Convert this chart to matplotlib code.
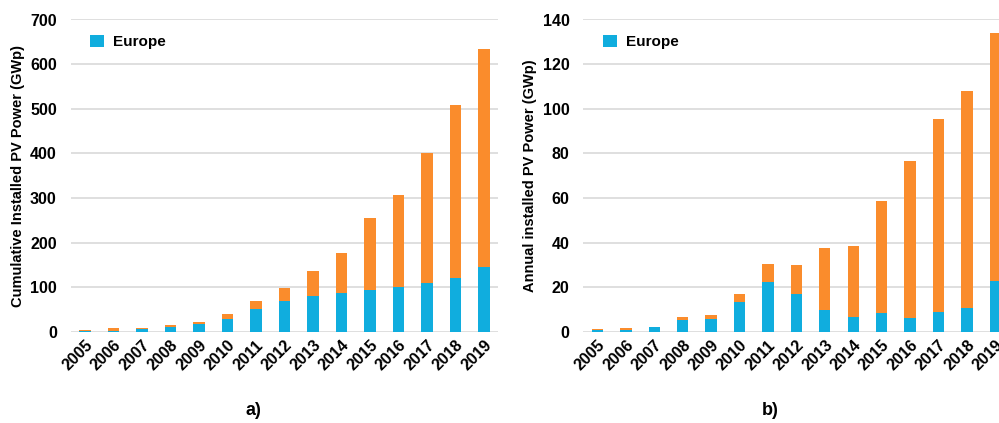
import matplotlib
matplotlib.use("Agg")
import matplotlib.pyplot as plt
import numpy as np

plt.rcParams['font.family'] = ['Liberation Sans', 'DejaVu Sans']
plt.rcParams['font.weight'] = 'bold'

years = ['2005', '2006', '2007', '2008', '2009', '2010', '2011', '2012',
         '2013', '2014', '2015', '2016', '2017', '2018', '2019']

# Cumulative installed PV power (GWp)
cum_world = [5, 8, 10, 16, 23, 41, 70, 99, 137, 178, 256, 306, 401, 509, 634]
cum_europe = [2, 3, 6, 11, 17, 30, 52, 69, 80, 87, 94, 101, 110, 122, 145]

# Annual installed PV power (GWp)
ann_world = [1.3, 1.6, 2.4, 6.6, 7.5, 17.1, 30.3, 29.8, 37.5, 38.5, 58.8, 76.8, 95.2, 108.1, 133.9]
ann_europe = [0.8, 0.9, 2.1, 5.5, 5.7, 13.5, 22.2, 17.2, 10.0, 6.9, 8.4, 6.4, 8.8, 10.9, 22.9]

BLUE = '#10ADDE'
ORANGE = '#FA8C2C'
GRID = '#D9D9D9'

fig = plt.figure(figsize=(9.99, 4.23), dpi=100)
W, H = 999, 423


def make_axes(x0, x1, y_top=19.5, y_bot=332):
    return fig.add_axes([x0 / W, (H - y_bot) / H, (x1 - x0) / W, (y_bot - y_top) / H])


def draw(ax, world, europe, ymax, ystep, ylabel, caption, cap_x):
    x = np.arange(len(years))
    rest = np.array(world) - np.array(europe)
    ax.bar(x, europe, width=0.4, color=BLUE, zorder=3, label='Europe')
    ax.bar(x, rest, bottom=europe, width=0.4, color=ORANGE, zorder=3)
    ax.set_xlim(-0.5, len(years) - 0.5)
    ax.set_ylim(0, ymax)
    ax.set_yticks(np.arange(0, ymax + 1, ystep))
    ax.yaxis.grid(True, color=GRID, linewidth=1.2, zorder=0)
    ax.set_axisbelow(True)
    for s in ax.spines.values():
        s.set_visible(False)
    ax.tick_params(axis='both', length=0, labelsize=11.5)
    ax.tick_params(axis='y', pad=10)
    ax.tick_params(axis='x', pad=4)
    ax.set_xticks(x)
    ax.set_xticklabels(years, rotation=45, ha='right', rotation_mode='anchor',
                       fontweight='bold')
    for t in ax.get_yticklabels():
        t.set_fontweight('bold')
    ax.set_ylabel(ylabel, fontsize=10.5, fontweight='bold', labelpad=4)
    ax.legend(loc='upper left', bbox_to_anchor=(0.01, 1.0), frameon=False,
              handlelength=0.9, handleheight=0.9, handletextpad=0.6,
              borderaxespad=0.6, prop={'weight': 'bold', 'size': 11})
    fig.text(cap_x / W, (H - 410) / H, caption, fontsize=13, fontweight='bold',
             ha='center', va='center')


ax1 = make_axes(70.7, 498.2)
draw(ax1, cum_world, cum_europe, 700, 100,
     'Cumulative Installed PV Power (GWp)', 'a)', 253)

ax2 = make_axes(583.3, 1009.5)
draw(ax2, ann_world, ann_europe, 140, 20,
     'Annual installed PV Power (GWp)', 'b)', 770)

fig.savefig('out.png', dpi=100)
